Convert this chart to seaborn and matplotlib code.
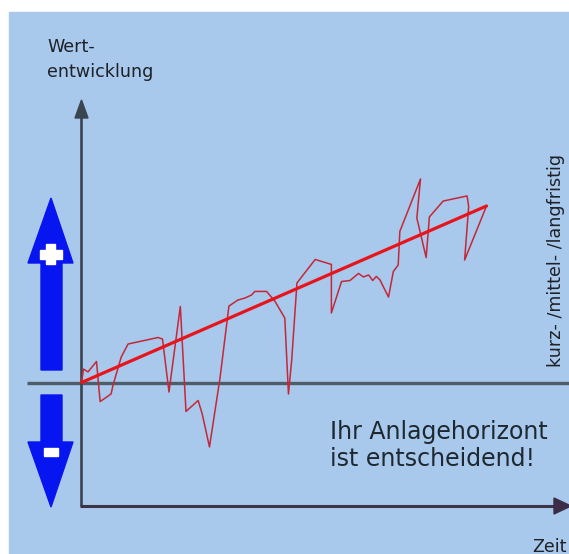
import matplotlib
matplotlib.use("Agg")
import matplotlib.pyplot as plt
from matplotlib.patches import Polygon, Rectangle
import pandas as pd
import seaborn as sns

sns.set_style("white")
plt.rcParams["font.family"] = ["DejaVu Sans"]

# chart values (time 0..100, value 0..100 at trend end)
zeit = [0, 0.5, 1.6, 3.7, 4.6, 7.3, 7.8, 9.8, 11.5, 18.9, 20.0, 21.6, 24.4, 25.8,
        28.8, 29.8, 31.6, 34.2, 36.4, 38.6, 40.4, 42.0, 42.8, 45.7, 47.8, 50.2,
        51.1, 51.9, 53.2, 57.7, 61.7, 61.7, 64.2, 66.3, 68.4, 69.6, 70.9, 71.9,
        72.8, 73.7, 75.8, 77.0, 78.2, 78.6, 83.7, 82.8, 85.1, 85.9, 89.3, 95.2,
        95.6, 94.6, 100]
wert = [0, 7.6, 6.0, 11.9, -10.8, -6.5, -1.4, 14.4, 21.8, 25.5, 24.6, -5.4, 43.1,
        -16.4, -10.2, -17.8, -36.5, 2.5, 43.3, 46.7, 47.9, 49.6, 51.6, 51.6, 45.9,
        36.5, -6.5, 12.7, 56.4, 69.7, 66.9, 39.4, 57.2, 57.8, 61.8, 59.8, 60.9,
        57.8, 60.1, 58.1, 48.4, 62.9, 66.6, 85.6, 115.3, 93.2, 70.8, 93.8, 102.8,
        105.7, 99.7, 69.4, 100]
trend_zeit = [0, 100]
trend_wert = [0, 100]

W, H = 569, 554
ORIGIN = (81.5, 382.5)      # pixel position of (0, 0)
PX_T, PX_V = 4.05, 1.765    # pixels per unit

BG = "#A8C8EC"
DARK = "#3A4552"
BLUE = "#0716F0"
TXT = "#1E2228"

fig = plt.figure(figsize=(W / 100, H / 100), dpi=100)
fig.patch.set_facecolor("white")

# decoration layer in pixel coordinates
deco = fig.add_axes([0, 0, 1, 1])
deco.set_xlim(0, W)
deco.set_ylim(H, 0)
deco.axis("off")
deco.add_patch(Rectangle((9, 12), W, H, color=BG, zorder=0))

# zero line
deco.plot([27, W], [ORIGIN[1], ORIGIN[1]], color="#4F5D6B", lw=2.4, zorder=1,
          solid_capstyle="butt")
# y axis with arrow
deco.plot([ORIGIN[0], ORIGIN[0]], [506, 112], color=DARK, lw=1.9, zorder=2,
          solid_capstyle="butt")
deco.add_patch(Polygon([(75, 118), (81.5, 100), (88, 118)], color=DARK, zorder=2))
# x axis with arrow
deco.plot([ORIGIN[0] - 1, 556], [506, 506], color="#3B3446", lw=2.2, zorder=2,
          solid_capstyle="butt")
deco.add_patch(Polygon([(554, 498), (571, 506), (554, 514)], color="#3B2D48", zorder=2))

# blue plus / minus arrows
up = [(41, 370), (62, 370), (62, 263), (73, 263), (51, 198), (28, 263), (41, 263)]
down = [(41, 395), (62, 395), (62, 442), (73, 442), (51, 507), (28, 442), (41, 442)]
deco.add_patch(Polygon(up, color=BLUE, zorder=3))
deco.add_patch(Polygon(down, color=BLUE, zorder=3))
deco.add_patch(Rectangle((40, 249.5), 22, 9, color="white", zorder=4))
deco.add_patch(Rectangle((46.5, 244), 9, 20, color="white", zorder=4))
deco.add_patch(Rectangle((44.5, 448), 14, 8, color="white", zorder=4))

# texts
deco.text(47, 52.5, "Wert-", fontsize=12.6, color=TXT, va="baseline")
deco.text(47, 77, "entwicklung", fontsize=12.6, color=TXT, va="baseline")
deco.text(556, 367, "kurz- /mittel- /langfristig", fontsize=12.6, color=TXT,
          rotation=90, ha="center", va="bottom")
deco.text(330, 439.5, "Ihr Anlagehorizont", fontsize=17, color="#1E2830", va="baseline")
deco.text(330, 466, "ist entscheidend!", fontsize=17, color="#1E2830", va="baseline")
deco.text(532, 551.5, "Zeit", fontsize=12.6, color=TXT, va="baseline")

# data layer
ax = fig.add_axes([0, 0, 1, 1])
ax.patch.set_alpha(0)
ax.set_xlim(-ORIGIN[0] / PX_T, (W - ORIGIN[0]) / PX_T)
ax.set_ylim(-(H - ORIGIN[1]) / PX_V, ORIGIN[1] / PX_V)

df = pd.DataFrame({"zeit": zeit, "wert": wert})
trend = pd.DataFrame({"zeit": trend_zeit, "wert": trend_wert})
sns.lineplot(data=df, x="zeit", y="wert", sort=False, estimator=None,
             color="#C42838", lw=1.1, ax=ax)
sns.lineplot(data=trend, x="zeit", y="wert", sort=False, estimator=None,
             color="#E8141C", lw=2.3, ax=ax)
ax.axis("off")

fig.savefig("out.png", dpi=100, facecolor="white")
